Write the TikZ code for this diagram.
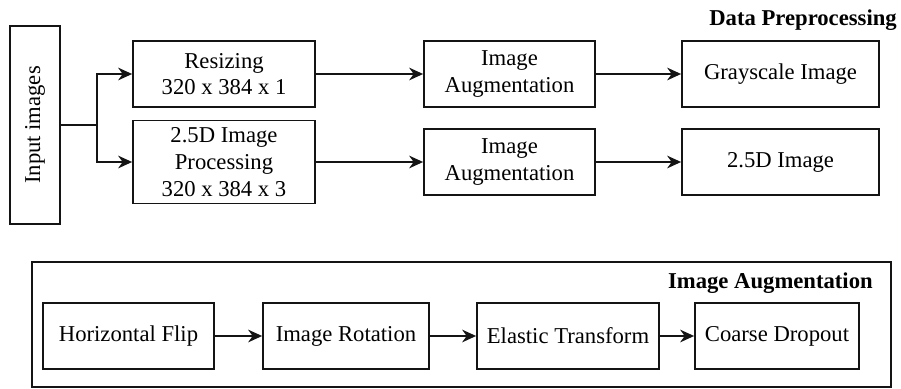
\documentclass[tikz,border=0pt]{standalone}
\usepackage{fontspec}
\setmainfont{Liberation Serif}
\usepackage{tikz}
\usetikzlibrary{arrows.meta, positioning, calc}
\definecolor{augdark}{RGB}{20, 20, 20}

\begin{document}
\begin{tikzpicture}[x=0.75pt, y=-0.75pt,
		font=\fontsize{17}{20}\selectfont,
		stagebox/.style={draw=augdark, line width=1.3pt, align=center, inner sep=0pt, minimum height=49.5pt},
		flow/.style={draw=augdark, line width=1.3pt, -{Stealth[length=10.5pt,width=9.5pt]}},
		heading/.style={font=\fontsize{17}{20}\selectfont\bfseries, anchor=east, inner sep=0pt}]
				\useasboundingbox (0,0) rectangle (901,389);
				\node[stagebox, minimum width=37.5pt, minimum height=148.5pt] (inp) at (35,125) {\rotatebox{90}{Input images}};
				\node[stagebox, minimum width=136.5pt] (resize) at (224,74) {Resizing\\320 x 384 x 1};
				\node[stagebox, minimum width=136.5pt, minimum height=62.25pt] (proc) at (224,162) {2.5D Image\\Processing\\320 x 384 x 3};
				\node[stagebox, minimum width=128.25pt] (augA) at (509.5,74) {Image\\Augmentation};
				\node[stagebox, minimum width=128.25pt] (augB) at (509.5,162) {Image\\Augmentation};
				\node[stagebox, minimum width=147.75pt] (gray) at (780.5,74) {Grayscale Image};
				\node[stagebox, minimum width=147.75pt] (twofive) at (780.5,162) {2.5D Image};
				\node[heading] (prephead) at (897,20) {Data Preprocessing};
				\coordinate (split) at (97,125);
				\draw[draw=augdark, line width=1.3pt] (inp.east) -- (split);
				\draw[flow] (split) |- (resize.west);
				\draw[flow] (split) |- (proc.west);
				\draw[flow] (resize) -- (augA);
				\draw[flow] (proc) -- (augB);
				\draw[flow] (augA) -- (gray);
				\draw[flow] (augB) -- (twofive);
				\draw[draw=augdark, line width=1.3pt] (32,262) rectangle (891,387);
				\node[heading] (aughead) at (873,283) {Image Augmentation};
				\node[stagebox, minimum width=128.25pt] (flip) at (128.5,336) {Horizontal Flip};
				\node[stagebox, minimum width=124.5pt] (rot) at (346,336) {Image Rotation};
				\node[stagebox, minimum width=136.5pt] (elastic) at (568,336) {Elastic Transform};
				\node[stagebox, minimum width=123pt] (coarse) at (777,336) {Coarse Dropout};
				\draw[flow] (flip) -- (rot);
				\draw[flow] (rot) -- (elastic);
				\draw[flow] (elastic) -- (coarse);
			\end{tikzpicture}
\end{document}
